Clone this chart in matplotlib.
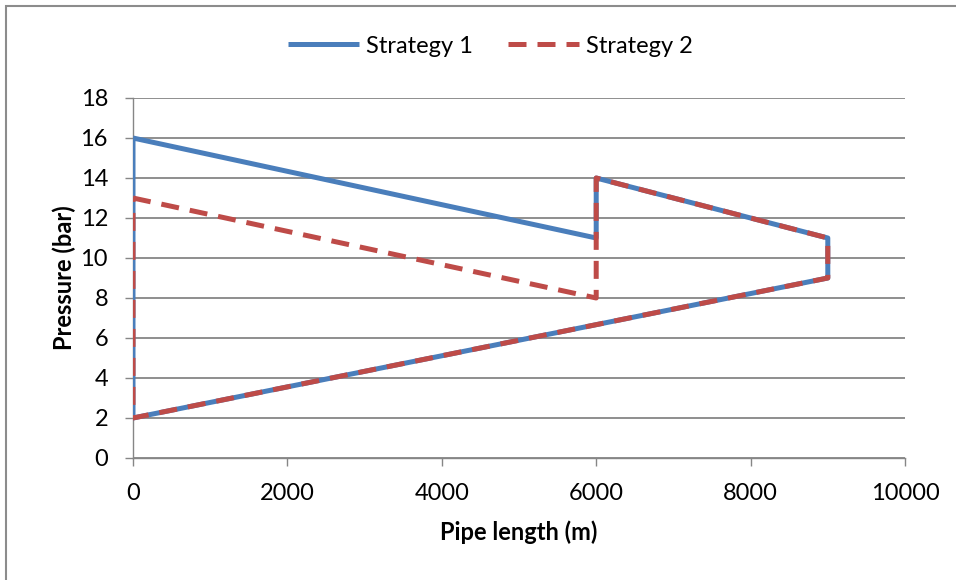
import matplotlib
matplotlib.use("Agg")
import matplotlib.pyplot as plt
from matplotlib.patches import Rectangle

# pipe length (m) and pressure (bar) along each strategy's path
S1_LENGTH = [0, 6000, 6000, 9000, 9000, 0, 0]
S1_PRESSURE = [16, 11, 14, 11, 9, 2, 16]
S2_LENGTH = [0, 6000, 6000, 9000, 9000, 0, 0]
S2_PRESSURE = [13, 8, 14, 11, 9, 2, 13]

X_TICKS = [0, 2000, 4000, 6000, 8000, 10000]
Y_TICKS = list(range(0, 19, 2))

BLUE = "#4a7ebb"
RED = "#be4b48"
GRID = "#868686"

plt.rcParams['font.family'] = ['Lato', 'DejaVu Sans']

fig = plt.figure(figsize=(9.56, 5.8), dpi=100)
ax = fig.add_axes([133 / 956, 1 - 458 / 580, (905 - 133) / 956, (458 - 98) / 580])

ax.plot(S1_LENGTH, S1_PRESSURE, color=BLUE, lw=3.6, solid_capstyle='butt',
        label="Strategy 1", zorder=3)
ax.plot(S2_LENGTH, S2_PRESSURE, color=RED, lw=3.6, dashes=(3.6, 2.2),
        dash_capstyle='butt', label="Strategy 2", zorder=4)

ax.set_xlim(0, 10000)
ax.set_ylim(0, 18)
ax.set_xticks(X_TICKS)
ax.set_yticks(Y_TICKS)
ax.yaxis.grid(True, color=GRID, lw=1.3)
ax.set_axisbelow(True)

for side in ("top", "right"):
    ax.spines[side].set_visible(False)
for side in ("left", "bottom"):
    ax.spines[side].set_color(GRID)
    ax.spines[side].set_linewidth(1.0)

ax.tick_params(axis='both', colors=GRID, labelcolor='black', labelsize=17,
               length=6, width=1.0, direction='out')
ax.tick_params(axis='x', pad=12)
ax.tick_params(axis='y', pad=12)

ax.set_xlabel("Pipe length (m)", fontsize=17, fontweight='bold', labelpad=12)
ax.set_ylabel("Pressure (bar)", fontsize=17, fontweight='bold', labelpad=3)

fig.legend(loc='upper center', bbox_to_anchor=(0.513, 0.975), ncol=2,
           frameon=False, fontsize=17, handlelength=3.0, handletextpad=0.3,
           columnspacing=1.5)

# outer chart border (only left and top edges visible in the reference)
fig.patches.append(Rectangle((6 / 956, -0.05), 1.2, 1.05 - 6 / 580,
                             transform=fig.transFigure, fill=False,
                             edgecolor="#8c8c8c", lw=1.5))

fig.savefig("out.png", dpi=100)
